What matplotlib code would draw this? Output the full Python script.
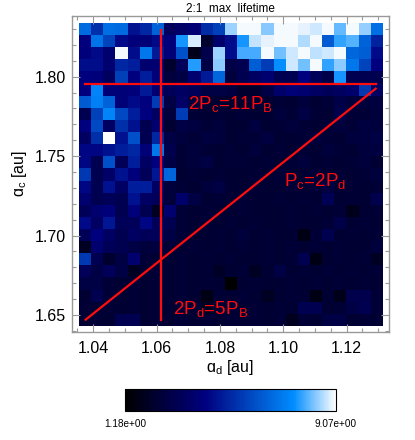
import numpy as np
import matplotlib
matplotlib.use('Agg')
import matplotlib.pyplot as plt
from matplotlib.colors import LinearSegmentedColormap
from matplotlib.ticker import MultipleLocator

plt.rcParams['font.family'] = ['Liberation Sans', 'DejaVu Sans']

# max lifetime grid, rows top (large a_c) -> bottom, columns small a_d -> large a_d
lifetime = [
    [6.7, 5.3, 6.8, 6.7, 4.6, 5.1, 6.5, 3.4, 3.6, 3.9, 5.2, 5.7, 8.45, 9.0, 9.0, 8.3, 9.0, 9.0, 8.9, 8.75, 9.0, 8.1, 9.0, 8.4, 6.8],
    [4.2, 6.9, 5.8, 4.4, 4.1, 4.0, 4.4, 4.1, 7.6, 8.8, 2.3, 3.7, 4.5, 7.6, 8.7, 8.9, 9.0, 9.0, 8.55, 9.0, 6.3, 7.8, 8.0, 6.5, 5.0],
    [4.1, 4.4, 3.8, 9.0, 4.5, 7.0, 4.8, 4.0, 6.1, 1.8, 3.0, 8.45, 4.5, 7.9, 7.9, 9.0, 8.2, 8.75, 9.0, 8.65, 8.75, 9.0, 6.6, 6.4, 4.4],
    [4.5, 4.5, 3.8, 5.1, 4.9, 3.8, 3.9, 2.3, 3.3, 7.7, 2.8, 8.35, 2.9, 3.1, 6.4, 5.6, 7.5, 8.75, 8.2, 9.0, 7.8, 8.35, 7.0, 5.8, 4.2],
    [4.2, 4.1, 3.4, 5.7, 4.2, 4.9, 4.0, 2.6, 2.8, 3.8, 4.8, 6.6, 2.6, 3.1, 3.5, 3.8, 3.1, 3.1, 4.2, 3.3, 2.9, 7.6, 3.1, 3.1, 3.1],
    [4.2, 7.3, 4.0, 4.0, 4.1, 4.8, 3.9, 3.3, 3.5, 3.3, 2.8, 2.8, 2.7, 2.3, 2.3, 2.8, 3.7, 4.0, 3.8, 3.5, 3.3, 3.4, 3.7, 5.5, 3.5],
    [6.3, 7.2, 6.5, 4.0, 4.4, 4.2, 5.6, 2.8, 3.6, 2.6, 2.4, 2.4, 2.3, 2.3, 2.4, 2.4, 2.5, 2.4, 2.6, 2.4, 2.5, 2.9, 2.6, 2.6, 2.7],
    [3.1, 5.7, 7.3, 5.9, 4.9, 4.2, 3.5, 2.6, 5.6, 2.5, 2.4, 2.5, 2.4, 2.5, 2.4, 2.4, 2.6, 2.5, 2.8, 2.5, 2.4, 3.0, 2.5, 2.5, 2.6],
    [4.2, 5.9, 3.5, 5.3, 4.6, 3.1, 3.8, 2.4, 2.8, 2.7, 2.5, 2.6, 2.4, 2.4, 2.7, 2.4, 2.5, 2.6, 2.5, 2.4, 2.5, 2.6, 2.5, 2.7, 2.6],
    [3.5, 5.3, 9.07, 4.6, 6.1, 3.1, 5.1, 2.8, 2.6, 2.5, 2.7, 2.6, 2.4, 2.5, 2.5, 2.7, 2.4, 2.4, 2.5, 2.6, 2.5, 2.4, 2.6, 2.7, 2.8],
    [4.3, 4.3, 4.6, 4.9, 5.1, 4.0, 7.0, 3.0, 2.5, 2.6, 2.5, 2.4, 2.5, 2.4, 2.6, 2.4, 2.5, 2.4, 2.5, 2.4, 2.6, 2.5, 2.4, 2.6, 2.7],
    [4.3, 3.1, 6.1, 3.3, 4.9, 3.5, 4.2, 2.8, 2.5, 2.6, 2.8, 2.4, 2.5, 2.5, 2.4, 2.5, 2.4, 2.5, 2.6, 2.4, 2.5, 2.4, 2.5, 2.6, 2.4],
    [5.5, 3.1, 3.6, 4.6, 4.1, 3.3, 4.7, 6.6, 2.4, 2.5, 2.4, 2.5, 2.4, 2.4, 2.5, 2.4, 2.5, 2.4, 2.4, 2.5, 2.4, 2.5, 2.4, 2.5, 2.6],
    [4.3, 3.1, 4.6, 3.5, 4.9, 4.9, 3.5, 2.6, 2.5, 2.4, 2.6, 2.8, 2.4, 2.4, 2.5, 2.4, 2.4, 2.5, 2.4, 2.5, 2.7, 2.4, 2.5, 2.4, 2.5],
    [3.8, 3.1, 3.3, 3.1, 4.6, 3.5, 3.3, 2.6, 3.7, 2.8, 2.4, 2.5, 2.4, 2.5, 2.4, 2.4, 2.5, 2.4, 2.5, 2.4, 3.2, 2.4, 2.5, 2.4, 3.0],
    [3.3, 3.8, 4.1, 3.1, 4.1, 3.1, 2.0, 3.8, 2.5, 2.4, 2.5, 2.4, 2.4, 2.5, 2.4, 2.4, 2.4, 2.5, 2.4, 2.5, 2.4, 2.5, 1.8, 2.4, 2.5],
    [4.4, 3.5, 4.7, 3.3, 3.3, 4.3, 3.3, 3.1, 2.5, 2.4, 2.5, 2.4, 2.5, 2.4, 2.5, 2.4, 2.4, 2.5, 2.4, 2.4, 2.5, 2.9, 2.4, 2.5, 2.4],
    [3.3, 4.2, 3.5, 3.1, 3.5, 3.3, 3.3, 2.8, 2.5, 2.4, 2.4, 2.5, 2.4, 2.6, 2.4, 2.5, 2.4, 2.4, 1.7, 2.5, 3.1, 2.4, 2.5, 2.4, 2.5],
    [2.0, 3.8, 3.3, 3.1, 2.8, 2.6, 2.7, 2.5, 2.4, 2.5, 2.4, 2.5, 2.4, 2.5, 2.4, 2.5, 2.4, 2.5, 2.4, 2.5, 2.4, 2.5, 2.4, 2.4, 2.6],
    [5.5, 3.1, 2.3, 2.8, 3.8, 2.5, 2.4, 2.4, 2.5, 2.4, 2.5, 2.4, 2.5, 2.4, 2.4, 2.5, 2.4, 2.5, 3.1, 1.7, 2.4, 2.5, 2.4, 2.5, 2.0],
    [3.3, 2.8, 3.3, 2.8, 2.0, 2.4, 2.5, 2.4, 2.5, 2.4, 2.5, 2.1, 2.4, 2.5, 2.0, 2.4, 2.8, 2.4, 2.5, 2.4, 2.5, 2.4, 2.5, 2.4, 2.5],
    [2.8, 2.8, 2.5, 2.4, 2.5, 2.4, 2.5, 2.4, 2.5, 2.4, 2.5, 2.4, 1.18, 2.4, 2.5, 2.4, 2.4, 2.5, 2.4, 2.5, 2.4, 2.5, 2.4, 2.5, 2.4],
    [2.4, 3.1, 2.5, 2.4, 2.5, 2.4, 2.5, 2.4, 2.5, 2.4, 1.7, 2.5, 2.4, 2.5, 2.4, 2.0, 2.4, 2.5, 2.4, 1.7, 2.4, 1.8, 3.0, 3.0, 2.5],
    [2.5, 2.4, 2.5, 2.4, 2.5, 2.4, 2.5, 2.4, 2.5, 2.4, 2.0, 2.4, 2.5, 2.4, 2.5, 2.4, 2.5, 2.4, 3.1, 3.1, 2.4, 2.5, 2.8, 3.1, 2.5],
    [2.4, 2.5, 2.4, 3.1, 3.1, 2.4, 2.5, 2.4, 2.5, 2.4, 2.5, 2.4, 2.5, 2.4, 2.5, 2.4, 2.5, 1.9, 2.5, 2.4, 2.8, 2.8, 2.4, 2.5, 2.4],
]
ad_range = [1.0356, 1.1313]   # a_d extent of the grid
ac_range = [1.6433, 1.8336]   # a_c extent of the grid

# resonance lines
ad_res = 1.0614   # 2Pd = 5PB
ac_res = 1.7955   # 2Pc = 11PB
ad_line = [1.0376, 1.1292]   # Pc = 2Pd
ratio = 2 ** (2 / 3)

data = np.array(lifetime)
cmap = LinearSegmentedColormap.from_list(
    'idl_blue', [(0, (0, 0, 0)), (0.38, (0, 0, 0.5)), (0.8, (0, 0.55, 1)), (1, (1, 1, 1))])

fig = plt.figure(figsize=(4.15, 4.40), dpi=100)
ax = fig.add_axes([0.1728, 0.2461, 0.7645, 0.7175])
im = ax.imshow(data, cmap=cmap, vmin=data.min(), vmax=data.max(), aspect='auto',
               extent=[ad_range[0], ad_range[1], ac_range[0], ac_range[1]],
               interpolation='nearest', origin='upper')
ax.set_xlim(1.0332, 1.1334)
ax.set_ylim(1.6395, 1.8382)

red = (1, 0.05, 0.05)
ax.plot([ad_res, ad_res], [1.6469, 1.8294], color=red, lw=1.6)
ax.plot([1.0374, 1.1292], [ac_res, ac_res], color=red, lw=1.6)
ax.plot(ad_line, [ratio * a for a in ad_line], color=red, lw=1.6)

ax.text(1.0699, 1.7793, r'2P$_\mathregular{c}$=11P$_\mathregular{B}$', color=red, fontsize=13.5)
ax.text(1.1002, 1.7305, r'P$_\mathregular{c}$=2P$_\mathregular{d}$', color=red, fontsize=13.5)
ax.text(1.0652, 1.6500, r'2P$_\mathregular{d}$=5P$_\mathregular{B}$', color=red, fontsize=13.5)

ax.xaxis.set_major_locator(MultipleLocator(0.02))
ax.xaxis.set_minor_locator(MultipleLocator(0.005))
ax.yaxis.set_major_locator(MultipleLocator(0.05))
ax.yaxis.set_minor_locator(MultipleLocator(0.01))
ax.xaxis.set_major_formatter(plt.FormatStrFormatter('%.2f'))
ax.yaxis.set_major_formatter(plt.FormatStrFormatter('%.2f'))
gray = '#999999'
ax.tick_params(which='both', direction='in', top=True, right=True, color=gray, labelsize=11.5)
ax.tick_params(which='major', length=6, width=0.8)
ax.tick_params(which='minor', length=3, width=0.8)
ax.tick_params(axis='x', pad=7)
ax.tick_params(axis='y', pad=4)
for s in ax.spines.values():
    s.set_color(gray)
    s.set_linewidth(1.0)

ax.set_xlabel('ɑ$_\\mathregular{d}$ [au]', fontsize=11.5, labelpad=1)
ax.set_ylabel('ɑ$_\\mathregular{c}$ [au]', fontsize=11.5, labelpad=4)
ax.set_title('2:1  max  lifetime', fontsize=8.5, pad=3)

cax = fig.add_axes([0.3012, 0.0659, 0.5084, 0.05])
cb = fig.colorbar(im, cax=cax, orientation='horizontal')
cb.set_ticks([])
cb.outline.set_linewidth(0.8)
fig.text(0.3012, 0.036, '%.2e' % data.min(), ha='center', va='center', fontsize=7.2)
fig.text(0.8096, 0.036, '%.2e' % data.max(), ha='center', va='center', fontsize=7.2)

fig.savefig('out.png', dpi=100)
